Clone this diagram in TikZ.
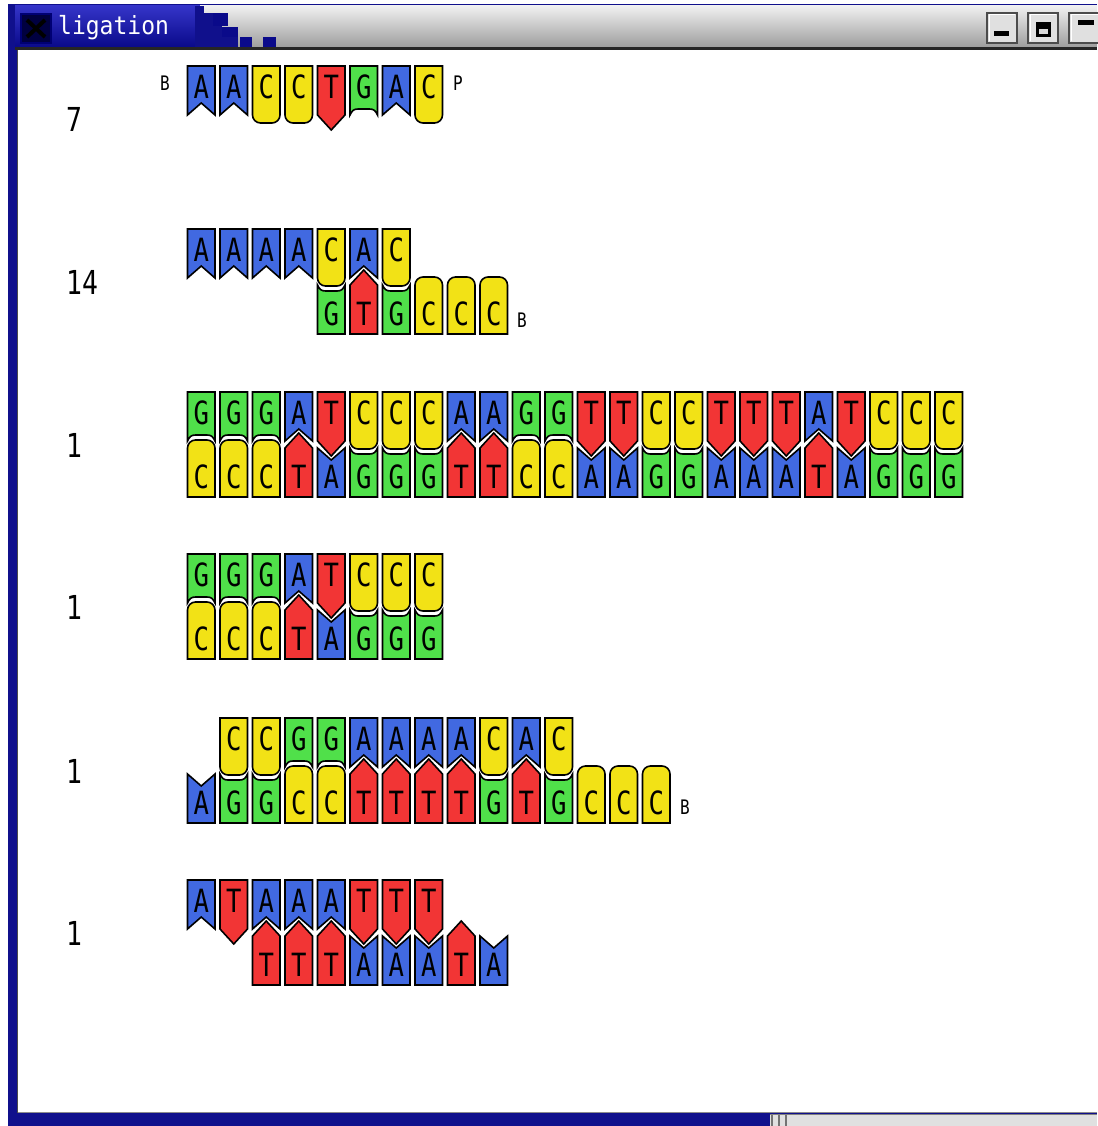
\documentclass[tikz,border=0pt]{standalone}
\usepackage{fontspec}
\newfontfamily\lettfont[FakeStretch=0.8]{DejaVu Sans Mono}
\newfontfamily\titlefont[FakeStretch=0.92]{DejaVu Sans Mono}
\definecolor{colA}{HTML}{4169E1}
\definecolor{colT}{HTML}{F23535}
\definecolor{colC}{HTML}{F2E216}
\definecolor{colG}{HTML}{50E04A}
\definecolor{framebl}{HTML}{10108C}
\definecolor{titletop}{HTML}{3434C8}
\definecolor{titlebot}{HTML}{0A0A8A}
\tikzset{
  blk/.style={draw=black, line width=1.6pt, line join=miter},
  lett/.style={font=\lettfont\fontsize{32}{32}\selectfont, inner sep=0pt, text=black},
  numlab/.style={font=\lettfont\fontsize{33}{33}\selectfont, inner sep=0pt, text=black, anchor=west},
  endlab/.style={font=\lettfont\fontsize{20}{20}\selectfont, inner sep=0pt, text=black},
  winbtn/.style={fill=black!12, draw=black!70, line width=1.6pt},
}
% ---- top strand shapes (partner below) ----
\newcommand\dnaTopShapeA{\draw[blk,fill=colA] (\dxL,\dyT) -- (\dxR,\dyT) -- (\dxR,\dyS) -- (\dxM,\dyS-12) -- (\dxL,\dyS) -- cycle;}
\newcommand\dnaTopShapeT{\draw[blk,fill=colT] (\dxL,\dyT) -- (\dxR,\dyT) -- (\dxR,\dyS) -- (\dxM,\dyS+15) -- (\dxL,\dyS) -- cycle;}
\newcommand\dnaTopShapeC{\draw[blk,fill=colC] (\dxL,\dyT) -- (\dxR,\dyT) -- (\dxR,\dyS) .. controls (\dxR,\dyS+4.4) and (\dxR-3.6,\dyS+8) .. (\dxR-8,\dyS+8) -- (\dxL+8,\dyS+8) .. controls (\dxL+3.6,\dyS+8) and (\dxL,\dyS+4.4) .. (\dxL,\dyS) -- cycle;}
\newcommand\dnaTopShapeG{\draw[blk,fill=colG] (\dxL,\dyT) -- (\dxR,\dyT) -- (\dxR,\dyS) .. controls (\dxR-2,\dyS-4.5) and (\dxR-4,\dyS-6) .. (\dxR-8,\dyS-6) -- (\dxL+8,\dyS-6) .. controls (\dxL+4,\dyS-6) and (\dxL+2,\dyS-4.5) .. (\dxL,\dyS) -- cycle;}
% ---- bottom strand shapes (partner above) ----
\newcommand\dnaBotShapeA{\draw[blk,fill=colA] (\dxL,\dyB) -- (\dxR,\dyB) -- (\dxR,\dyS) -- (\dxM,\dyS+12) -- (\dxL,\dyS) -- cycle;}
\newcommand\dnaBotShapeT{\draw[blk,fill=colT] (\dxL,\dyB) -- (\dxR,\dyB) -- (\dxR,\dyS) -- (\dxM,\dyS-15) -- (\dxL,\dyS) -- cycle;}
\newcommand\dnaBotShapeC{\draw[blk,fill=colC] (\dxL,\dyB) -- (\dxR,\dyB) -- (\dxR,\dyS) .. controls (\dxR,\dyS-4.4) and (\dxR-3.6,\dyS-8) .. (\dxR-8,\dyS-8) -- (\dxL+8,\dyS-8) .. controls (\dxL+3.6,\dyS-8) and (\dxL,\dyS-4.4) .. (\dxL,\dyS) -- cycle;}
\newcommand\dnaBotShapeG{\draw[blk,fill=colG] (\dxL,\dyB) -- (\dxR,\dyB) -- (\dxR,\dyS) .. controls (\dxR-2,\dyS+4.5) and (\dxR-4,\dyS+6) .. (\dxR-8,\dyS+6) -- (\dxL+8,\dyS+6) .. controls (\dxL+4,\dyS+6) and (\dxL+2,\dyS+4.5) .. (\dxL,\dyS) -- cycle;}
% #1 column, #2 row top y, #3 base
\newcommand\dnaTop[3]{%
  \pgfmathsetmacro\dxL{187.5+32.5*#1}%
  \pgfmathsetmacro\dxR{\dxL+27.5}%
  \pgfmathsetmacro\dxM{\dxL+13.75}%
  \pgfmathsetmacro\dyT{#2}%
  \pgfmathsetmacro\dyS{#2+49}%
  \csname dnaTopShape#3\endcsname
  \node[lett] (t-#2-#1) at (\dxM,\dyT+20.5) {#3};%
}
\newcommand\dnaBot[3]{%
  \pgfmathsetmacro\dxL{187.5+32.5*#1}%
  \pgfmathsetmacro\dxR{\dxL+27.5}%
  \pgfmathsetmacro\dxM{\dxL+13.75}%
  \pgfmathsetmacro\dyS{#2+56}%
  \pgfmathsetmacro\dyB{#2+105}%
  \csname dnaBotShape#3\endcsname
  \node[lett] (b-#2-#1) at (\dxM,#2+85) {#3};%
}
\newcommand\dnaTopSeq[3]{% offset, Yt, list
  \foreach \dbase [count=\dk from 0] in {#3} {%
    \pgfmathtruncatemacro\dcol{\dk+#1}%
    \dnaTop{\dcol}{#2}{\dbase}}%
}
\newcommand\dnaBotSeq[3]{%
  \foreach \dbase [count=\dk from 0] in {#3} {%
    \pgfmathtruncatemacro\dcol{\dk+#1}%
    \dnaBot{\dcol}{#2}{\dbase}}%
}
\begin{document}
\begin{tikzpicture}[x=1pt,y=-1pt]
\useasboundingbox (0,0) rectangle (1097,1126);
\fill[white] (0,0) rectangle (1097,1126);
% ---- window frame ----
\fill[framebl] (8,4) rectangle (1097,1126);
\fill[white] (18,50) rectangle (1097,1112);
\draw[black!45, line width=1pt] (18,1112.5) -- (1097,1112.5);
\draw[black!70, line width=1pt] (17.5,50) -- (17.5,1113);
% title bar
\shade[top color=titletop, bottom color=titlebot] (15,6) rectangle (200,47);
\shade[top color=black!6, bottom color=black!38] (200,6) rectangle (1097,47);
\fill[framebl] (195,6) rectangle (204,47);
\fill[framebl] (200,13) rectangle (214,47);
\fill[titlebot] (213,13) rectangle (228,26);
\fill[framebl] (210,26) rectangle (222,47);
\fill[titlebot] (222,27) rectangle (238,37);
\fill[framebl] (222,37) rectangle (238,47);
\fill[titlebot] (240,37) rectangle (252,47);
\fill[titlebot] (263,37) rectangle (276,47);
\fill[black!85] (15,47) rectangle (1097,50);
% close button
\fill[black!75!blue] (20,13) rectangle (52,44);
\draw[blue!45!black, line width=1.5pt] (21,14) rectangle (51,43);
\draw[black, line width=4pt] (27,20) -- (45,37) (45,20) -- (27,37);
\node[anchor=west, text=white, inner sep=0pt, font=\titlefont\fontsize{25}{25}\selectfont] (title) at (58,28) {ligation};
% right buttons
\draw[winbtn] (987,13) rectangle (1017,43);
\draw[white, line width=1pt] (989,41) -- (989,15) -- (1015,15);
\fill[black] (994,31) rectangle (1009,36);
\draw[winbtn] (1028,13) rectangle (1058,43);
\draw[white, line width=1pt] (1030,41) -- (1030,15) -- (1056,15);
\fill[black] (1036,22) rectangle (1051,37);
\fill[black!15] (1039,29) rectangle (1048,34);
\draw[winbtn] (1069,13) rectangle (1102,43);
\draw[white, line width=1pt] (1071,41) -- (1071,15) -- (1100,15);
\fill[black] (1078,20) rectangle (1094,25);
% bottom bar
\fill[black!12] (770,1114) rectangle (1097,1126);
\draw[black!50, line width=1pt] (770,1114.5) -- (1097,1114.5);
\foreach \gx in {772,779,786} {\draw[black!55, line width=1.5pt] (\gx,1115) -- (\gx,1126);}
% ---- row 1 ----
\dnaTopSeq{0}{66}{A,A,C,C,T,G,A,C}
\node[endlab] (r1B) at (165,83) {B};
\node[endlab] (r1P) at (458,83) {P};
\node[numlab] (n1) at (66,119) {7};
% ---- row 2 ----
\dnaTopSeq{0}{229}{A,A,A,A,C,A,C}
\dnaBotSeq{4}{229}{G,T,G,C,C,C}
\node[endlab] (r2B) at (522,320) {B};
\node[numlab] (n2) at (66,282) {14};
% ---- row 3 ----
\dnaTopSeq{0}{392}{G,G,G,A,T,C,C,C,A,A,G,G,T,T,C,C,T,T,T,A,T,C,C,C}
\dnaBotSeq{0}{392}{C,C,C,T,A,G,G,G,T,T,C,C,A,A,G,G,A,A,A,T,A,G,G,G}
\node[numlab] (n3) at (66,445) {1};
% ---- row 4 ----
\dnaTopSeq{0}{554}{G,G,G,A,T,C,C,C}
\dnaBotSeq{0}{554}{C,C,C,T,A,G,G,G}
\node[numlab] (n4) at (66,607) {1};
% ---- row 5 ----
\dnaTopSeq{1}{718}{C,C,G,G,A,A,A,A,C,A,C}
\dnaBotSeq{0}{718}{A,G,G,C,C,T,T,T,T,G,T,G,C,C,C}
\node[endlab] (r5B) at (685,807) {B};
\node[numlab] (n5) at (66,771) {1};
% ---- row 6 ----
\dnaTopSeq{0}{880}{A,T,A,A,A,T,T,T}
\dnaBotSeq{2}{880}{T,T,T,A,A,A,T,A}
\node[numlab] (n6) at (66,933) {1};
\end{tikzpicture}
\end{document}
